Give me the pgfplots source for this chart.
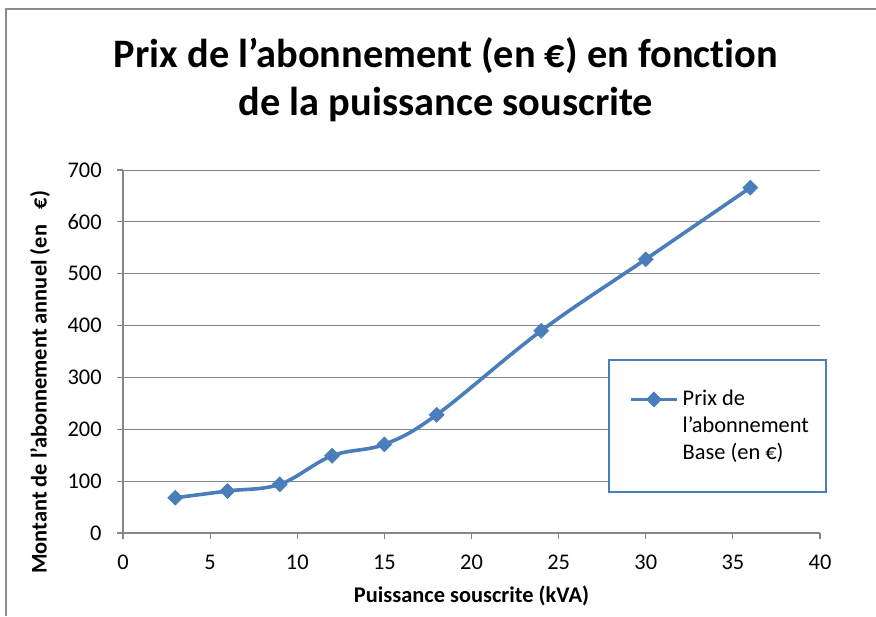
\documentclass[border=0pt]{standalone}
\usepackage{pgfplots}
\pgfplotsset{compat=1.18}
\usepackage{fontspec}
\setmainfont{Carlito}[Ligatures=NoCommon]

\definecolor{serie}{HTML}{4A7EBB}
\definecolor{grille}{HTML}{868686}
\definecolor{cadre}{HTML}{8C8C8C}

\pgfplotstableread{
x y
3 68
6 81
9 94
12 149
15 171
18 228
24 390
30 528
36 666
}\abonnement

\begin{document}
\begin{tikzpicture}
% 1 px de l'image = 0.5pt
\useasboundingbox (0,0) rectangle (438pt,-308pt);
\draw[cadre, line width=0.75pt] (3pt,-308pt) -- (3pt,-4.5pt) -- (438pt,-4.5pt);
\begin{axis}[
  at={(61.5pt,-266.5pt)}, anchor=south west,
  scale only axis, width=348.5pt, height=181.5pt,
  xmin=0, xmax=40, ymin=0, ymax=700,
  xtick distance=5, ytick distance=100,
  axis x line*=bottom, axis y line*=left,
  axis line style={grille, line width=0.6pt, -},
  tick align=outside, major tick length=3pt,
  tick style={grille, line width=0.6pt},
  ymajorgrids, grid style={grille, line width=0.5pt},
  /pgf/number format/assume math mode=true,
  ticklabel style={font=\fontsize{11.2}{12.5}\selectfont},
  xticklabel style={anchor=north, inner sep=0pt, yshift=-8pt},
  yticklabel style={anchor=east, inner sep=0pt, xshift=-7.5pt},
  xlabel={Puissance souscrite (kVA)},
  ylabel={Montant de l\char"27 abonnement annuel (en\hspace{0.7em}€)},
  label style={font=\bfseries\fontsize{11.2}{12.5}\selectfont},
  xlabel style={at={(axis description cs:0.5,-0.1736)}, anchor=center, inner sep=0pt},
  ylabel style={at={(axis description cs:-0.1191,0.415)}, anchor=center, inner sep=0pt},
  title={Prix de l’abonnement (en €) en fonction\\de la puissance souscrite},
  title style={at={(axis description cs:0.4634,1.333)}, anchor=north, inner sep=0pt,
    align=center, font=\bfseries\fontsize{20.2}{23.8}\selectfont},
  legend style={at={(axis description cs:0.696,0.479)}, anchor=north west,
    draw=serie, line width=1pt, inner xsep=6.5pt, inner ysep=13pt,
    font=\fontsize{11.2}{13.4}\selectfont,
    cells={align=left}},
  legend image code/.code={
    \path (-3.5pt,13.4pt);
    \draw[#1, mark repeat=2, mark phase=2] plot coordinates {(0pt,13.4pt) (11.5pt,13.4pt) (23pt,13.4pt)};
  },
]
\addplot[serie, line width=1.8pt, smooth, tension=0.6,
  mark=square*, mark size=2.6pt, mark options={rotate=45, solid, fill=serie, draw=serie, line width=0.4pt}]
  table[x=x, y=y] {\abonnement};
\legend{Prix de\\l’abonnement\\Base (en €)}
\end{axis}
\end{tikzpicture}
\end{document}
